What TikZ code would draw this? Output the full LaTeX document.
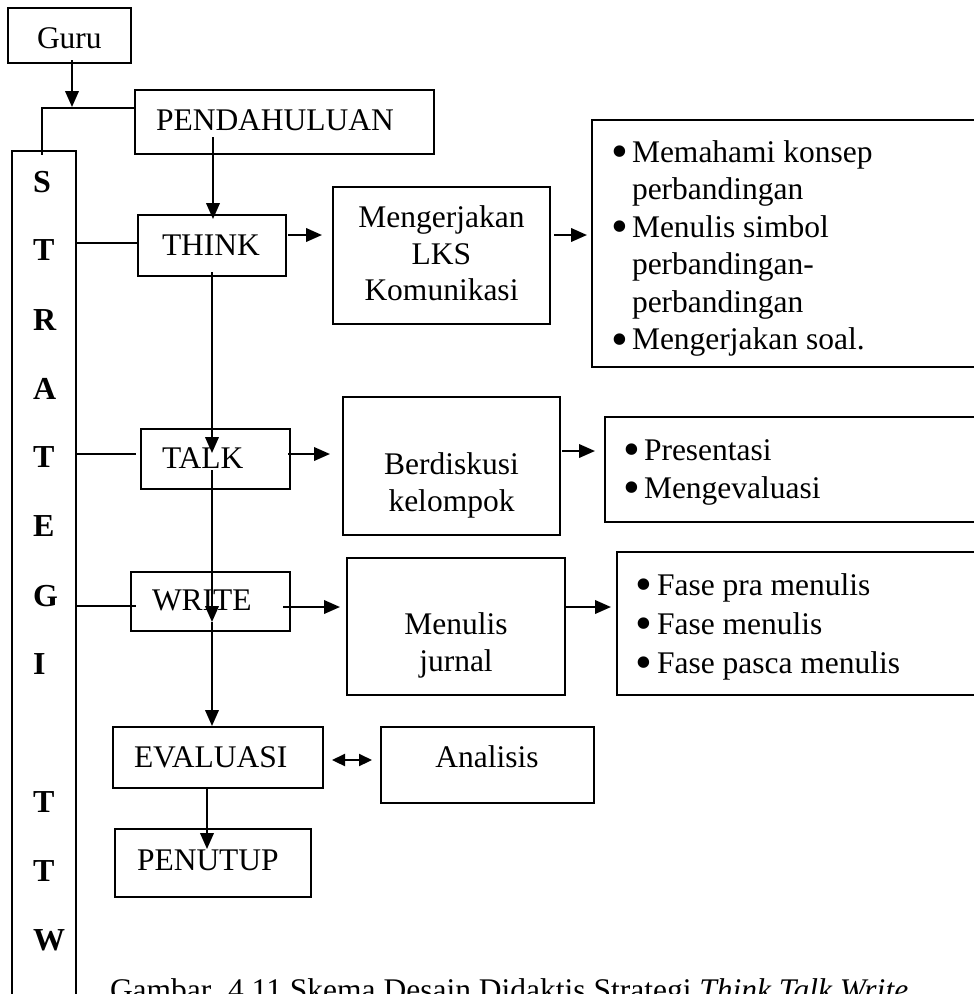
\documentclass[tikz,border=0pt]{standalone}
\usepackage{fontspec}
\setmainfont{Liberation Serif}
\usetikzlibrary{arrows.meta,calc}
\begin{document}
\begin{tikzpicture}[x=1pt,y=-1pt,
  box/.style={draw, line width=1.6pt, anchor=north west, inner sep=0pt, outer sep=0pt},
  txt/.style={inner sep=0pt, outer sep=0pt, font=\fontsize{31.5}{37.5}\selectfont},
  lt/.style={txt, anchor=base west},
  ct/.style={txt, anchor=base},
  bul/.style={inner sep=0pt, outer sep=0pt, anchor=center, font=\fontsize{48}{48}\selectfont},
  bt/.style={inner sep=0pt, outer sep=0pt, anchor=base west, font=\fontsize{32}{37.5}\selectfont\bfseries},
  arr/.style={line width=2.2pt, -{Triangle[length=16pt,width=13.5pt]}},
  darr/.style={line width=2.2pt, {Triangle[length=13pt,width=12pt]}-{Triangle[length=13pt,width=12pt]}},
  link/.style={line width=1.4pt}]
\path[use as bounding box, clip] (0,0) rectangle (974,994);
\fill[white] (0,0) rectangle (974,994);

% boxes
\node[box, minimum width=123pt, minimum height=55pt] (guru) at (8,8) {};
\node[box, minimum width=299pt, minimum height=64pt] (pend) at (135,90) {};
\node[box, minimum width=64pt, minimum height=949pt] (strat) at (12,151) {};
\node[box, minimum width=148pt, minimum height=61pt] (think) at (138,215) {};
\node[box, minimum width=217pt, minimum height=137pt] (mkl) at (333,187) {};
\node[box, minimum width=408pt, minimum height=247pt] (b1) at (592,120) {};
\node[box, minimum width=149pt, minimum height=60pt] (talk) at (141,429) {};
\node[box, minimum width=217pt, minimum height=138pt] (disk) at (343,397) {};
\node[box, minimum width=395pt, minimum height=105pt] (b2) at (605,417) {};
\node[box, minimum width=159pt, minimum height=59pt] (write) at (131,572) {};
\node[box, minimum width=218pt, minimum height=137pt] (jurnal) at (347,558) {};
\node[box, minimum width=383pt, minimum height=143pt] (b3) at (617,552) {};
\node[box, minimum width=210pt, minimum height=61pt] (eval) at (113,727) {};
\node[box, minimum width=213pt, minimum height=76pt] (anal) at (381,727) {};
\node[box, minimum width=196pt, minimum height=68pt] (tutup) at (115,829) {};

% texts
\node[lt] (tguru) at (37,48) {Guru};
\node[lt] (tpend) at (156,130) {PENDAHULUAN};
\node[lt] (tthink) at (162,255) {THINK};
\node[ct] (tm1) at (441.5,227) {Mengerjakan};
\node[ct] (tm2) at (441.5,264) {LKS};
\node[ct] (tm3) at (441.5,300) {Komunikasi};
\node[lt] (ttalk) at (162,468) {TALK};
\node[ct] (td1) at (451.5,474) {Berdiskusi};
\node[ct] (td2) at (451.5,511) {kelompok};
\node[lt] (twrite) at (152,610) {WRITE};
\node[ct] (tj1) at (456,634) {Menulis};
\node[ct] (tj2) at (456,671) {jurnal};
\node[lt] (teval) at (134,767) {EVALUASI};
\node[ct] (tanal) at (487,767) {Analisis};
\node[lt] (ttutup) at (137,870) {PENUTUP};

% bullet list 1 (clipped at bottom like the original text frame)
\begin{scope}
\clip (592,120) rectangle (1000,355);
\node[bul] (bu1) at (620,157) {•};
\node[lt] (l11) at (632,162) {Memahami konsep};
\node[lt] (l12) at (632,199.5) {perbandingan};
\node[bul] (bu2) at (620,232) {•};
\node[lt] (l13) at (632,237) {Menulis simbol};
\node[lt] (l14) at (632,274.5) {perbandingan-};
\node[lt] (l15) at (632,312) {perbandingan};
\node[bul] (bu3) at (620,344.5) {•};
\node[lt] (l16) at (632,349.5) {Mengerjakan soal.};
\end{scope}

% bullet list 2
\node[bul] (bu4) at (632,455) {•};
\node[lt] (l21) at (644,460) {Presentasi};
\node[bul] (bu5) at (632,493) {•};
\node[lt] (l22) at (644,498) {Mengevaluasi};

% bullet list 3
\node[bul] (bu6) at (644,590) {•};
\node[lt] (l31) at (657,595) {Fase pra menulis};
\node[bul] (bu7) at (644,629) {•};
\node[lt] (l32) at (657,634) {Fase menulis};
\node[bul] (bu8) at (644,668) {•};
\node[lt] (l33) at (657,673) {Fase pasca menulis};

% vertical STRATEGI TTW
\node[bt] (s1) at (33,192) {S};
\node[bt] (s2) at (33,260) {T};
\node[bt] (s3) at (33,330) {R};
\node[bt] (s4) at (33,399) {A};
\node[bt] (s5) at (33,467) {T};
\node[bt] (s6) at (33,536) {E};
\node[bt] (s7) at (33,606) {G};
\node[bt] (s8) at (33,674) {I};
\node[bt] (s9) at (33,812) {T};
\node[bt] (s10) at (33,881) {T};
\node[bt] (s11) at (33,950) {W};

% caption (cut by the lower edge, as in the original)
\node[lt] (cap) at (110,1000) {Gambar. 4.11 Skema Desain Didaktis Strategi \textit{Think Talk Write}};

% connectors
\coordinate (jn) at (72,107);
\coordinate (jl) at (42,108);
\draw[arr] ($(guru.south)+(2.5,-3)$) -- (jn);
\draw[link] ($(pend.north west)+(0,18)$) -- (jl) -- ($(strat.north west)+(30,4)$);
\draw[arr] ($(pend.south)+(-71.5,-17)$) -- ($(think.north)+(1,4)$);
\draw[arr] ($(think.north east)+(2,20)$) -- ($(mkl.north west)+(-11,48)$);
\draw[arr] ($(mkl.north east)+(4,48)$) -- ($(b1.north west)+(-5,115)$);
\draw[arr] ($(think.south)+(0,-4)$) -- ($(talk.north)+(-3.5,24)$);
\draw[arr] ($(talk.north)+(-3.5,41)$) -- ($(write.north)+(1.5,50)$);
\draw[arr] ($(write.north)+(1.5,50)$) -- ($(eval.north)+(-6,-1)$);
\draw[arr] ($(eval.south)+(-11,0)$) -- ($(tutup.north)+(-6,20)$);
\draw[darr] ($(eval.east)+(9,2.5)$) -- ($(anal.west)+(-9,-5)$);
\draw[arr] ($(talk.east)+(-2,-5)$) -- ($(disk.west)+(-13,-12)$);
\draw[arr] ($(disk.east)+(2,-15)$) -- ($(b2.west)+(-10,-18.5)$);
\draw[arr] ($(write.east)+(-7,5.5)$) -- ($(jurnal.west)+(-7,-19.5)$);
\draw[arr] ($(jurnal.east)+(1,-19.5)$) -- ($(b3.west)+(-6,-16.5)$);
\draw[link] ($(strat.east |- think.west)+(0,-2.5)$) -- ($(think.west)+(0,-2.5)$);
\draw[link] ($(strat.east |- talk.west)+(0,-5)$) -- ($(talk.west)+(-5,-5)$);
\draw[link] ($(strat.east |- write.west)+(0,4.5)$) -- ($(write.west)+(5,4.5)$);
\end{tikzpicture}
\end{document}
